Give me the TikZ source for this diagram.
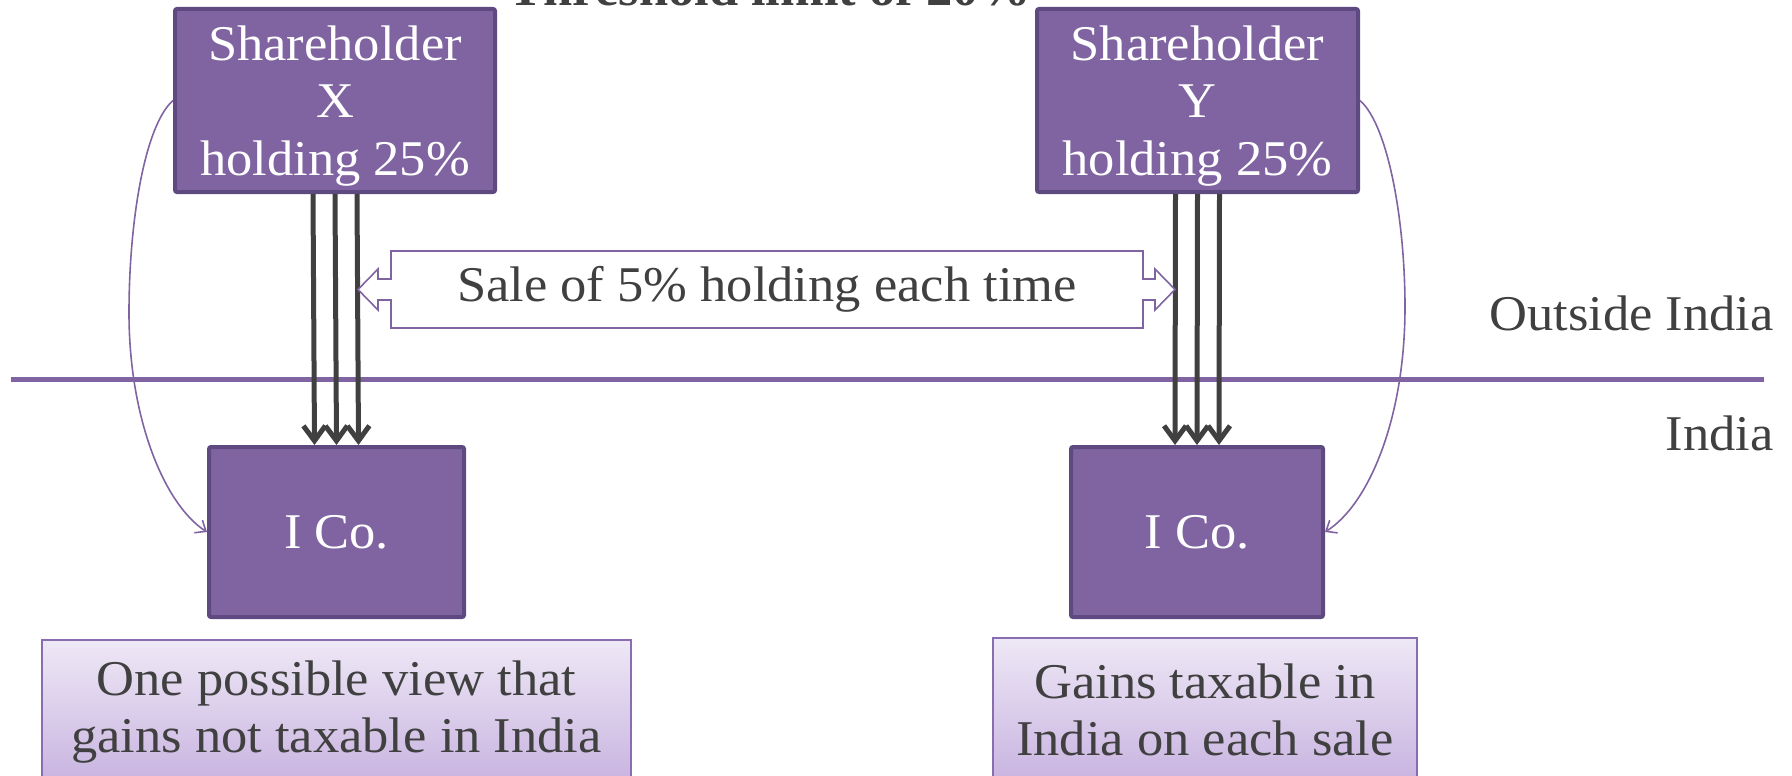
\documentclass[tikz,border=0pt]{standalone}
\usepackage{fontspec}
\setmainfont{Liberation Serif}[FakeStretch=1.05]
\usepackage{tikz}
\usetikzlibrary{arrows.meta}
\definecolor{boxpurple}{HTML}{8064A2}
\definecolor{boxedge}{HTML}{5E4A80}
\definecolor{txtgray}{HTML}{404040}
\definecolor{notetop}{HTML}{EEE8F6}
\definecolor{notebot}{HTML}{C8B3E0}
\definecolor{noteedge}{HTML}{8A6DB0}
\newcommand{\slidefont}{\fontsize{50}{57.5}\selectfont}
\tikzset{%
  tipV/.tip={Straight Barb[length=15pt,width=22pt]},
  tipC/.tip={Straight Barb[length=9pt,width=15pt]},
  holder/.style={draw=boxedge, line width=4pt, fill=boxpurple, rounded corners=2pt,
    text=white, align=center, inner sep=2pt, font=\slidefont},
  ptext/.style={text=txtgray, font=\slidefont, inner sep=0pt},
  note/.style={draw=noteedge, line width=2pt, top color=notetop, bottom color=notebot,
    text=txtgray, align=center, inner sep=2pt, font=\slidefont},
  holdarr/.style={txtgray, line width=5pt},
  swaparr/.style={boxpurple, line width=1.6pt},
  %divider/.style={boxpurple, line width=5pt, line cap=round}
}

\begin{document}
\begin{tikzpicture}[x=1pt,y=-1pt]
\useasboundingbox (0,0) rectangle (1792,776);
\clip (0,0) rectangle (1792,776);
% title sits mostly above the page
\node[ptext , font=\slidefont\bfseries , anchor=base] (title) at (770,6) {Threshold limit of 20\%};
\draw[boxpurple , line width=5pt] (11,379) -- (1764,379);
\node[ptext , anchor=base east] (outside) at (1774,330) {Outside India};
\node[ptext , anchor=base east] (inside) at (1774,450) {India};
\node[holder , minimum width=320 , minimum height=183 , text depth=0pt] (shX) at (335,100.5) {Shareholder\\X\\holding 25\%};
\node[holder , minimum width=321 , minimum height=183 , text depth=0pt] (shY) at (1197.5,100.5) {Shareholder\\Y\\holding 25\%};
\node[holder , minimum width=255 , minimum height=170] (icoX) at (336.5,532) {I Co.};
\node[holder , minimum width=252 , minimum height=170] (icoY) at (1197,532) {I Co.};
\foreach \dx in {-22,0,22} {
  \draw[holdarr , -tipV] ([xshift=\dx]shX.south) -- ([xshift=\dx]icoX.north);
  \draw[holdarr , -tipV] ([xshift=\dx]shY.south) -- ([xshift=\dx]icoY.north);
}
\node[ptext , minimum width=752 , minimum height=77 , outer sep=0pt] (sale) at (767,289.5) {Sale of 5\% holding each time};
\draw[boxpurple , line width=1.6pt , fill=white , line join=miter] (sale.north west) -- (sale.north east) -- ++(0,28) -- ++(12,0) -- ++(0,-10) -- ++(20,20.5) -- ++(-20,20.5) -- ++(0,-10) -- ++(-12,0)
  -- (sale.south east) -- (sale.south west) -- ++(0,-28) -- ++(-13,0) -- ++(0,10) -- ++(-20,-20.5) -- ++(20,-20.5) -- ++(0,10) -- ++(13,0) -- cycle;
\node[ptext] at (sale) {Sale of 5\% holding each time};
\coordinate (bendX) at (129,313);
\coordinate (bendY) at (1405,307);
\draw[swaparr , -tipC] (shX.west) .. controls (145,125) and (129,220) .. (bendX) .. controls (129,420) and (165,505) .. (icoX.west);
\draw[swaparr , -tipC] (shY.east) .. controls (1388,125) and (1405,220) .. (bendY) .. controls (1405,420) and (1368,505) .. (icoY.east);
\node[note , minimum width=589 , minimum height=144] (noteX) at (336.5,712) {One possible view that\\gains not taxable in India};
\node[note , minimum width=424 , minimum height=144] (noteY) at (1205,710) {Gains taxable in\\India on each sale};
\end{tikzpicture}
\end{document}
